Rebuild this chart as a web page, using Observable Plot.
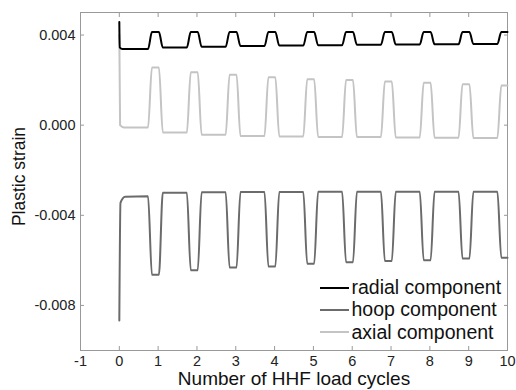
<!DOCTYPE html>
<html>
<head>
<meta charset="utf-8">
<script src="https://cdn.jsdelivr.net/npm/d3@7"></script>
<script src="https://cdn.jsdelivr.net/npm/@observablehq/plot@0.6"></script>
<style>
  html, body { margin: 0; padding: 0; background: #fff; }
  #wrap { position: relative; width: 516px; height: 390px; font-family: "Liberation Sans", Arial, sans-serif; }
  #legend { position: absolute; left: 320px; top: 276.5px; font-size: 19.5px; color: #111; }
  #legend .row { display: flex; align-items: center; height: 22.3px; white-space: nowrap; }
  #legend svg { margin-right: 2.5px; }
</style>
</head>
<body>
<div id="wrap"></div>
<script>
// ---- data ----
const cycles = [1, 2, 3, 4, 5, 6, 7, 8, 9, 10];
const xTicks = [-1, 0, 1, 2, 3, 4, 5, 6, 7, 8, 9, 10];
const yTicks = [0.004, 0, -0.004, -0.008];

// cycle-relative times of the load step edges (in cycles)
const phase = [-0.26, -0.16, 0.02, 0.12];

// initial transient at t = 0
const radialStartT = [0, 0.01, 0.08];
const radialStart = [0.00458, 0.00345, 0.00338];
const hoopStartT = [0, 0.03, 0.15];
const hoopStart = [-0.00867, -0.00345, -0.00318];
const axialStartT = [0, 0.02, 0.12];
const axialStart = [0.0040, 0.0000, -0.00010];

// plateau before each cycle's excursion (base) and excursion level (peak)
const radialBase = [0.00338, 0.00345, 0.00348, 0.00351, 0.00353, 0.00355, 0.00357, 0.00358, 0.00359, 0.00360];
const radialPeak = [0.00413, 0.00413, 0.00413, 0.00413, 0.00413, 0.00413, 0.00413, 0.00413, 0.00413, 0.00413];

const hoopBase = [-0.00316, -0.00300, -0.00298, -0.00297, -0.00297, -0.00296, -0.00296, -0.00296, -0.00296, -0.00296];
const hoopPeak = [-0.00664, -0.00644, -0.00632, -0.00627, -0.00615, -0.00608, -0.00603, -0.00599, -0.00592, -0.00588];

const axialBase = [-0.00010, -0.00033, -0.00043, -0.00048, -0.00050, -0.00052, -0.00053, -0.00055, -0.00056, -0.00057];
const axialPeak = [0.00256, 0.00235, 0.00224, 0.00213, 0.00204, 0.00200, 0.00194, 0.00188, 0.00182, 0.00176];

const seriesNames = ["radial component", "hoop component", "axial component"];
const seriesColors = ["#000000", "#6b6b6b", "#c4c4c4"];

// ---- build point tables ----
function build(startT, startV, base, peak) {
  const pts = startT.map((t, i) => ({t, v: startV[i]}));
  cycles.forEach((n, i) => {
    pts.push({t: n + phase[0], v: base[i]});
    pts.push({t: n + phase[1], v: peak[i]});
    pts.push({t: Math.min(10, n + phase[2]), v: peak[i]});
    if (i + 1 < cycles.length) pts.push({t: n + phase[3], v: base[i + 1]});
  });
  return pts;
}
const radial = build(radialStartT, radialStart, radialBase, radialPeak);
const hoop = build(hoopStartT, hoopStart, hoopBase, hoopPeak);
const axial = build(axialStartT, axialStart, axialBase, axialPeak);

const frameColor = "#999";
const fmtY = d => d.toFixed(3);
const fmtX = d => String(d);

const chart = Plot.plot({
  width: 516,
  height: 390,
  marginLeft: 80,
  marginRight: 9,
  marginTop: 12,
  marginBottom: 40,
  x: {domain: [-1, 10]},
  y: {domain: [-0.010, 0.005]},
  style: {fontFamily: "Liberation Sans, Arial, sans-serif", fontSize: "14.5px", color: "#222", background: "#fff"},
  marks: [
    // labels
    Plot.axisX({anchor: "bottom", ticks: xTicks, tickSize: 0, tickPadding: 5, tickFormat: fmtX, label: null}),
    Plot.axisY({anchor: "left", ticks: yTicks, tickSize: 0, tickPadding: 5, tickFormat: fmtY, label: null}),
    // inward ticks on all four sides
    Plot.axisX({anchor: "bottom", ticks: xTicks, tickSize: 4, dy: -4, tickFormat: () => "", label: null, stroke: frameColor}),
    Plot.axisX({anchor: "top", ticks: xTicks, tickSize: 4, dy: 4, tickFormat: () => "", label: null, stroke: frameColor}),
    Plot.axisY({anchor: "left", ticks: yTicks, tickSize: 4, dx: 4, tickFormat: () => "", label: null, stroke: frameColor}),
    Plot.axisY({anchor: "right", ticks: yTicks, tickSize: 4, dx: -4, tickFormat: () => "", label: null, stroke: frameColor}),
    Plot.frame({stroke: frameColor}),
    // titles
    Plot.text(["Number of HHF load cycles"], {frameAnchor: "bottom", lineAnchor: "middle", textAnchor: "middle", dy: 28.5, fontSize: 19, fill: "#111"}),
    Plot.text(["Plastic strain"], {frameAnchor: "left", lineAnchor: "middle", textAnchor: "middle", dx: -61, dy: -5, rotate: -90, fontSize: 17.5, fill: "#111"}),
    // series
    Plot.line(axial, {x: "t", y: "v", stroke: seriesColors[2], strokeWidth: 2, curve: "monotone-x"}),
    Plot.line(hoop, {x: "t", y: "v", stroke: seriesColors[1], strokeWidth: 2, curve: "monotone-x"}),
    Plot.line(radial, {x: "t", y: "v", stroke: seriesColors[0], strokeWidth: 2, curve: "monotone-x"})
  ]
});

const wrap = document.getElementById("wrap");
wrap.appendChild(chart);

// legend (inside plot, bottom right)
const legend = document.createElement("div");
legend.id = "legend";
seriesNames.forEach((name, i) => {
  const row = document.createElement("div");
  row.className = "row";
  row.innerHTML = `<svg width="29" height="4"><line x1="0" x2="29" y1="2" y2="2" stroke="${seriesColors[i]}" stroke-width="2"/></svg><span>${name}</span>`;
  legend.appendChild(row);
});
wrap.appendChild(legend);
</script>
</body>
</html>
